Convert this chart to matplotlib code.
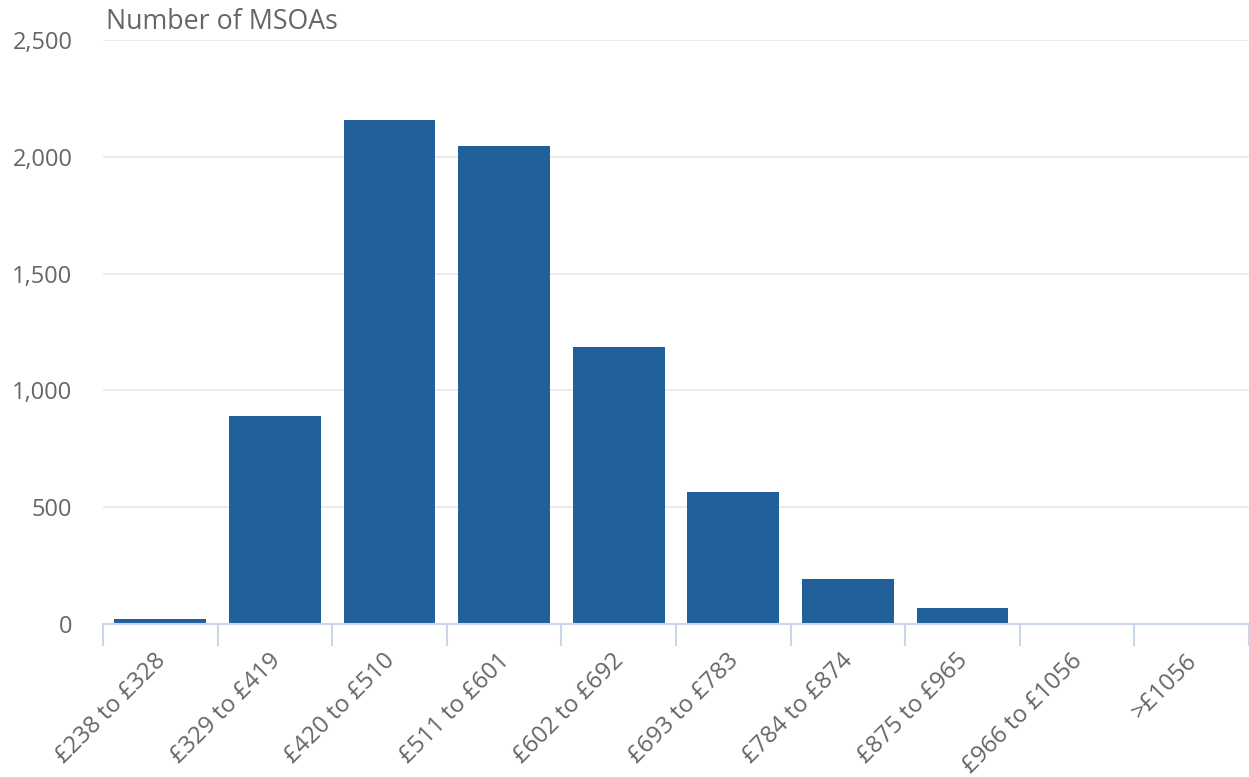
import numpy as np
import matplotlib.pyplot as plt
from matplotlib.ticker import FuncFormatter
from matplotlib.transforms import ScaledTranslation

# data
categories = ['£238 to £328', '£329 to £419', '£420 to £510', '£511 to £601',
              '£602 to £692', '£693 to £783', '£784 to £874', '£875 to £965',
              '£966 to £1056', '>£1056']
counts = [21, 889, 2156, 2048, 1186, 564, 194, 67, 0, 0]
y_ticks = [0, 500, 1000, 1500, 2000, 2500]

plt.rcParams['font.family'] = ['Open Sans', 'DejaVu Sans']
grey = '#666666'
bar_col = '#21609a'
axis_col = '#ccd6eb'

fig = plt.figure(figsize=(12.49, 7.77), dpi=100)
ax = fig.add_axes([103 / 1249, 1 - 624 / 777, 1 - 103 / 1249, (624 - 40) / 777])

x = np.arange(len(categories))
ax.bar(x, counts, width=0.8, color=bar_col, zorder=3)

ax.set_xlim(-0.5, len(categories) - 0.5)
ax.set_ylim(0, 2500)
ax.set_yticks(y_ticks)
ax.yaxis.set_major_formatter(FuncFormatter(lambda v, p: f'{int(v):,}'))
ax.grid(axis='y', color='#e6e6e6', linewidth=1.2, zorder=0)
ax.tick_params(axis='y', length=0, pad=22, labelsize=17, labelcolor=grey)

# category labels at centres, tick marks at boundaries
ax.set_xticks(x)
ax.set_xticklabels(categories, rotation=45, ha='right', va='center',
                   rotation_mode='anchor')
ax.tick_params(axis='x', which='major', length=0, pad=24, labelsize=17.3, labelcolor=grey)
shift = ScaledTranslation(2 / 100, 0, fig.dpi_scale_trans)
for lab in ax.get_xticklabels():
    lab.set_transform(lab.get_transform() + shift)
ax.set_xticks(np.arange(len(categories) + 1) - 0.5, minor=True)
ax.tick_params(axis='x', which='minor', length=16, width=1.5, color=axis_col, direction='out')

for s in ['top', 'right', 'left']:
    ax.spines[s].set_visible(False)
ax.spines['bottom'].set_color(axis_col)
ax.spines['bottom'].set_linewidth(1.5)
ax.spines['bottom'].set_zorder(4)

fig.text(106 / 1249, 1 - 29 / 777, 'Number of MSOAs', fontsize=19.3, color=grey,
         ha='left', va='baseline')

fig.savefig('out.png', dpi=100)
